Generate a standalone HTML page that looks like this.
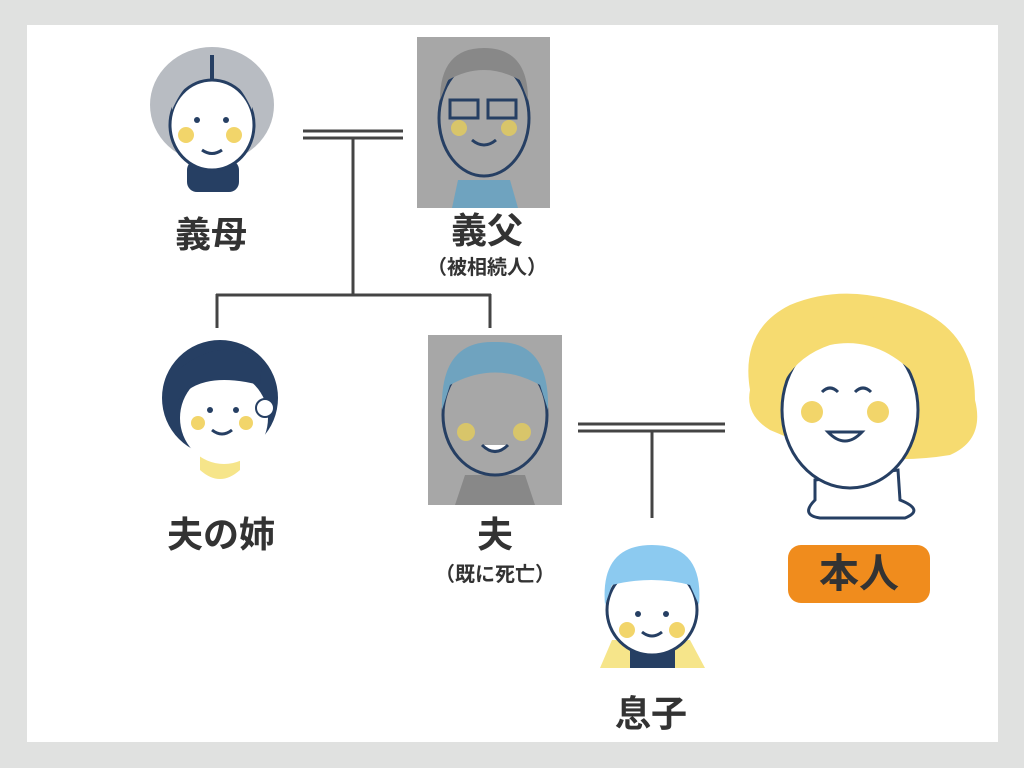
<!DOCTYPE html>
<html><head><meta charset="utf-8"><style>
body{margin:0;width:1024px;height:768px;background:#e0e1e0;position:relative;overflow:hidden;font-family:"Liberation Sans","Noto Sans CJK JP",sans-serif;}
.panel{position:absolute;left:27px;top:25px;width:971px;height:717px;background:#fff;}
.lb{position:absolute;font-weight:bold;color:#333;font-size:36px;transform:translateX(-50%);white-space:nowrap;line-height:1;}
.sm{position:absolute;font-weight:bold;color:#333;font-size:20px;transform:translateX(-50%);white-space:nowrap;line-height:1;}
svg{position:absolute;left:0;top:0}
</style></head><body>
<div class="panel"></div>
<svg width="1024" height="768" viewBox="0 0 1024 768">
<g stroke="#444" stroke-width="3" fill="none">
<line x1="303" y1="131" x2="403" y2="131"/><line x1="303" y1="138" x2="403" y2="138"/>
<line x1="353" y1="138" x2="353" y2="295"/>
<line x1="216" y1="295" x2="491" y2="295"/>
<line x1="217" y1="294" x2="217" y2="328"/><line x1="490" y1="294" x2="490" y2="328"/>
<line x1="578" y1="424" x2="725" y2="424"/><line x1="578" y1="431" x2="725" y2="431"/>
<line x1="652" y1="431" x2="652" y2="518"/>
</g>
<g>
<ellipse cx="212" cy="105" rx="62" ry="58" fill="#b8bcc2"/>
<rect x="187" y="160" width="52" height="32" rx="10" fill="#263f63"/>
<ellipse cx="212" cy="125" rx="42" ry="45" fill="#fff" stroke="#263f63" stroke-width="3"/>
<path d="M172 110 Q190 70 212 78 Q234 70 252 110 L252 85 Q212 55 172 85Z" fill="#b8bcc2"/>
<line x1="212" y1="55" x2="212" y2="80" stroke="#263f63" stroke-width="4"/>
<circle cx="186" cy="135" r="8" fill="#f2d56a"/><circle cx="234" cy="135" r="8" fill="#f2d56a"/>
<circle cx="197" cy="120" r="3" fill="#263f63"/><circle cx="226" cy="120" r="3" fill="#263f63"/>
<path d="M202 150 Q212 157 222 150" stroke="#263f63" stroke-width="3" fill="none"/>
</g>
<rect x="417" y="37" width="133" height="171" fill="#a7a7a7"/>
<g>
<path d="M458 180 L510 180 L518 208 L452 208Z" fill="#6fa3bf"/>
<ellipse cx="484" cy="118" rx="45" ry="58" fill="#a7a7a7" stroke="#263f63" stroke-width="3"/>
<path d="M440 100 Q440 48 484 48 Q528 48 528 100 L520 80 Q484 60 448 80Z" fill="#888"/>
<rect x="450" y="100" width="28" height="18" fill="none" stroke="#263f63" stroke-width="3"/>
<rect x="488" y="100" width="28" height="18" fill="none" stroke="#263f63" stroke-width="3"/>
<circle cx="459" cy="128" r="8" fill="#d8c56a"/><circle cx="509" cy="128" r="8" fill="#d8c56a"/>
<path d="M472 140 Q484 150 496 140" stroke="#263f63" stroke-width="3" fill="none"/>
</g>
<g>
<path d="M200 470 Q220 488 240 470 L240 455 L200 455Z" fill="#f6e58a"/>
<circle cx="220" cy="398" r="58" fill="#263f63"/>
<ellipse cx="224" cy="418" rx="44" ry="46" fill="#fff"/>
<path d="M178 400 Q200 370 260 385 L262 360 Q220 335 178 370Z" fill="#263f63"/>
<circle cx="265" cy="408" r="9" fill="#fff" stroke="#263f63" stroke-width="2"/>
<circle cx="198" cy="423" r="7" fill="#f2d56a"/><circle cx="246" cy="423" r="7" fill="#f2d56a"/>
<circle cx="210" cy="410" r="3" fill="#263f63"/><circle cx="236" cy="410" r="3" fill="#263f63"/>
<path d="M212 430 Q222 438 232 430" stroke="#263f63" stroke-width="3" fill="none"/>
</g>
<rect x="428" y="335" width="134" height="170" fill="#a7a7a7"/>
<g>
<path d="M465 475 L525 475 L535 505 L455 505Z" fill="#888"/>
<ellipse cx="495" cy="415" rx="52" ry="60" fill="#a7a7a7" stroke="#263f63" stroke-width="3"/>
<path d="M442 410 Q440 340 495 342 Q550 340 548 410 L540 385 Q495 360 450 385Z" fill="#6fa3bf"/>
<circle cx="466" cy="432" r="9" fill="#d8c56a"/><circle cx="522" cy="432" r="9" fill="#d8c56a"/>
<path d="M482 445 Q495 458 508 445" stroke="#263f63" stroke-width="3" fill="#fff"/>
</g>
<g>
<path d="M815 480 L815 500 Q800 515 820 518 L905 518 Q925 510 900 500 L898 470Z" fill="#fff" stroke="#263f63" stroke-width="3"/>
<path d="M750 390 Q740 330 790 305 Q850 280 920 310 Q975 335 975 400 Q985 440 950 455 Q860 470 770 430 Q745 415 750 390Z" fill="#f6db70"/>
<ellipse cx="850" cy="410" rx="68" ry="78" fill="#fff" stroke="#263f63" stroke-width="3"/>
<path d="M785 380 Q800 320 860 315 Q910 320 920 380 Q880 335 830 345 Q800 355 785 380Z" fill="#f6db70"/>
<circle cx="812" cy="412" r="11" fill="#f2d56a"/><circle cx="878" cy="412" r="11" fill="#f2d56a"/>
<path d="M822 392 Q830 384 838 392 M855 392 Q863 384 871 392" stroke="#263f63" stroke-width="3" fill="none"/>
<path d="M828 432 Q845 450 862 432Z" fill="#fff" stroke="#263f63" stroke-width="3"/>
</g>
<rect x="788" y="545" width="142" height="58" rx="13" fill="#f08c1d"/>
<g>
<path d="M600 668 L612 640 L690 640 L705 668Z" fill="#f6e58a"/>
<rect x="630" y="640" width="45" height="28" fill="#263f63"/>
<ellipse cx="652" cy="610" rx="45" ry="45" fill="#fff" stroke="#263f63" stroke-width="3"/>
<path d="M605 605 Q600 545 652 545 Q704 545 699 605 L690 585 Q652 575 612 585Z" fill="#8ccaf0"/>
<circle cx="627" cy="630" r="8" fill="#f2d56a"/><circle cx="677" cy="630" r="8" fill="#f2d56a"/>
<circle cx="638" cy="614" r="3" fill="#263f63"/><circle cx="666" cy="614" r="3" fill="#263f63"/>
<path d="M642 632 Q652 640 662 632" stroke="#263f63" stroke-width="3" fill="none"/>
</g>
</svg>
<div class="lb" style="left:211px;top:217px">義母</div>
<div class="lb" style="left:487px;top:213px">義父</div>
<div class="sm" style="left:487px;top:258px">（被相続人）</div>
<div class="lb" style="left:221px;top:517px">夫の姉</div>
<div class="lb" style="left:495px;top:517px">夫</div>
<div class="sm" style="left:495px;top:565px">（既に死亡）</div>
<div class="lb" style="left:859px;top:554px;font-size:40px">本人</div>
<div class="lb" style="left:651px;top:696px">息子</div>
</body></html>
